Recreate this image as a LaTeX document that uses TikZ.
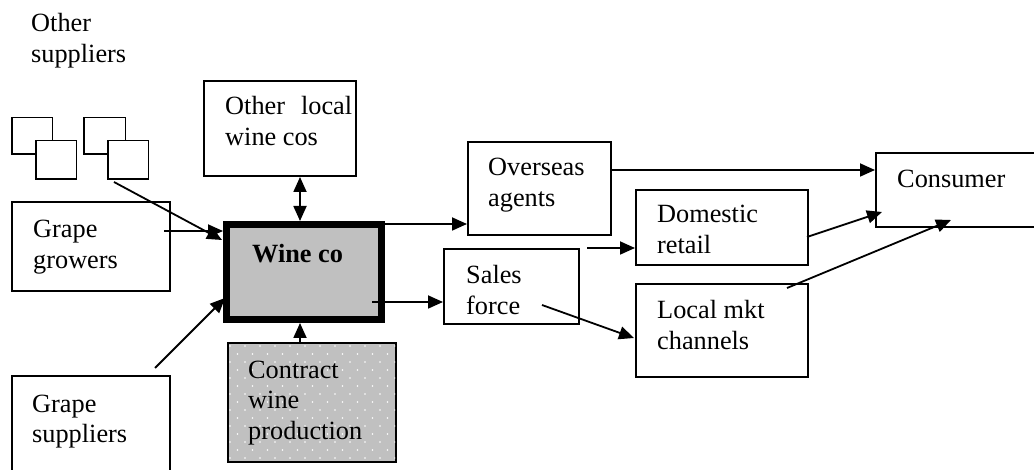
\documentclass[tikz,border=0pt]{standalone}
\usepackage{fontspec}
\setmainfont{Liberation Serif}
\usetikzlibrary{arrows.meta,calc}
\definecolor{boxgray}{RGB}{192,192,192}
% left-aligned block of lines whose first baseline sits on the node's base
\newcommand\txtlines[1]{\begin{tabular}[t]{@{}l@{}}#1\end{tabular}}
\begin{document}
\begin{tikzpicture}[x=1pt,y=-1pt,
  box/.style={draw,line width=2pt,fill=white,inner sep=0pt,anchor=north west},
  sqbox/.style={box,line width=1.5pt},
  txt/.style={anchor=base west,inner sep=0pt,font=\fontsize{26.3}{31}\selectfont},
  flow/.style={line width=1.8pt,-{Triangle[length=15pt,width=13pt]}},
  both/.style={line width=1.8pt,{Triangle[length=15pt,width=13pt]}-{Triangle[length=15pt,width=13pt]}}]
\useasboundingbox (0,0) rectangle (1034,470);
\clip (0,0) rectangle (1034,470);

% other suppliers: two pairs of small overlapping squares
\node[sqbox,minimum width=40.5,minimum height=36.5] (sq1) at (11,117) {};
\node[sqbox,minimum width=40.5,minimum height=38.5] (sq2) at (35,140) {};
\node[sqbox,minimum width=41.5,minimum height=36.5] (sq3) at (83,117) {};
\node[sqbox,minimum width=40.5,minimum height=38.5] (sq4) at (107,140) {};

% boxes
\node[box,minimum width=158,minimum height=89] (growers) at (11,201) {};
\node[box,minimum width=158,minimum height=120] (gsupp) at (11,375) {};
\node[box,minimum width=152,minimum height=95] (otherloc) at (203,80) {};
\node[box,line width=7pt,fill=boxgray,minimum width=155,minimum height=95] (wine) at (223,221) {};
\node[box,fill=boxgray,minimum width=168,minimum height=119] (contract) at (227,342) {};
\node[box,minimum width=143,minimum height=93] (overseas) at (467,141) {};
\node[box,minimum width=135,minimum height=75] (sales) at (443,248) {};
\node[box,minimum width=172,minimum height=75] (domestic) at (635,189) {};
\node[box,minimum width=172,minimum height=93] (localmkt) at (635,283) {};
\node[box,minimum width=180,minimum height=74] (consumer) at (875,152) {};

% dotted texture of the contract production box
\begin{scope}
  \clip ($(contract.north west)+(2,2)$) rectangle ($(contract.south east)-(2,2)$);
  \foreach \r in {0,...,15}
    \foreach \c in {0,...,12}
      \fill[white] ({230+\c*15+mod(\r,2)*7.5},{346+\r*8}) circle (0.9);
\end{scope}

% texts
\node[txt] (osT) at (31,32) {\txtlines{Other\\suppliers}};
\node[txt] (growT) at (33,238) {\txtlines{Grape\\growers}};
\node[txt] (gsupT) at (32,412) {\txtlines{Grape\\suppliers}};
\node[txt] (olT) at (225,115) {\txtlines{Other\hspace{16pt}local\\wine cos}};
\node[txt,font=\fontsize{26.3}{31}\selectfont\bfseries] (wineT) at (252,263) {Wine co};
\node[txt] (cwT) at (248,378) {\txtlines{Contract\\wine\\production}};
\node[txt] (ovT) at (488,176) {\txtlines{Overseas\\agents}};
\node[txt] (sfT) at (466,284) {\txtlines{Sales\\force}};
\node[txt] (drT) at (657,223) {\txtlines{Domestic\\retail}};
\node[txt] (lmT) at (657,319) {\txtlines{Local mkt\\channels}};
\node[txt] (coT) at (897,188) {Consumer};

% connectors
\draw[flow] ($(sq4.south west)+(7,2)$) -- ($(wine.north west)+(-1,19)$);
\draw[flow] ($(growers.north east)+(-7,30)$) -- ($(wine.north west)+(0,10)$);
\draw[flow] ($(gsupp.north east)+(-16,-7)$) -- ($(wine.south west)+(2,-25)$);
\draw[both] ($(otherloc.south west)+(97,0)$) -- ($(wine.north west)+(77,0)$);
\draw[flow] ($(contract.north west)+(73,0)$) -- ($(wine.south west)+(77,0)$);
\draw[flow] ($(wine.north east)+(0,3)$) -- ($(overseas.north west)+(0,83)$);
\draw[flow] ($(wine.south east)+(-13,-21)$) -- ($(sales.north west)+(0,54)$);
\draw[flow] ($(sales.north east)+(7,0)$) -- ($(domestic.north west)+(0,59)$);
\draw[flow] ($(sales.north west)+(99,57)$) -- ($(localmkt.north west)+(-1,55)$);
\draw[flow] ($(overseas.north east)+(0,29)$) -- ($(consumer.north west)+(0,18)$);
\draw[flow] ($(domestic.south east)+(-2,-29)$) -- ($(consumer.north west)+(7,60)$);
\draw[flow] ($(localmkt.north east)+(-22,5)$) -- ($(consumer.north west)+(76,68)$);
\end{tikzpicture}
\end{document}
